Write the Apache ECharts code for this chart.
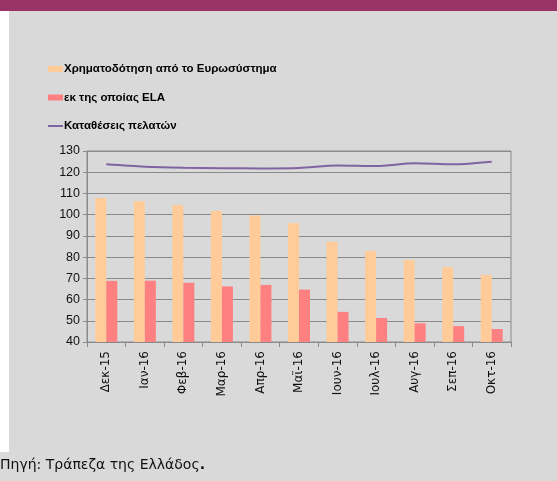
<!DOCTYPE html>
<html>
<head>
<meta charset="utf-8">
<script src="https://cdn.jsdelivr.net/npm/echarts@6/dist/echarts.min.js"></script>
<style>
  html, body { margin: 0; padding: 0; background: #d9d9d9; }
  #chart { width: 557px; height: 481px; }
</style>
</head>
<body>
<div id="chart"></div>
<script>
const months = ['Δεκ-15', 'Ιαν-16', 'Φεβ-16', 'Μαρ-16', 'Απρ-16', 'Μαϊ-16', 'Ιουν-16', 'Ιουλ-16', 'Αυγ-16', 'Σεπ-16', 'Οκτ-16']
const eurosystem = [107.8, 106.3, 104.5, 101.7, 99.6, 95.9, 87.2, 82.9, 78.6, 75.3, 71.6]
const ela = [68.8, 68.9, 67.9, 66.2, 66.9, 64.7, 54.2, 51.3, 48.8, 47.5, 46.1]
const deposits = [123.7, 122.6, 122.1, 121.9, 121.8, 122.0, 123.2, 122.9, 124.2, 123.7, 124.9]

const font = 'Tahoma, "Liberation Sans", Arial, sans-serif'
const wideFont = 'Tahoma, "DejaVu Sans", sans-serif'

const chart = echarts.init(document.getElementById('chart'))

chart.setOption({
  backgroundColor: '#d9d9d9',
  animation: false,
  textStyle: { fontFamily: font },
  graphic: [
    { type: 'rect', left: 0, top: 0, shape: { width: 9, height: 452 }, style: { fill: '#ffffff' }, silent: true },
    { type: 'rect', left: 0, top: 0, shape: { width: 557, height: 11 }, style: { fill: '#993366' }, silent: true },
    {
      type: 'text',
      left: 0,
      top: 458,
      style: {
        text: '{a|Πηγή: Τράπεζα της Ελλάδος}{b|.}',
        rich: {
          a: { fontSize: 14, fontFamily: wideFont, fill: '#111' },
          b: { fontSize: 14, fontFamily: wideFont, fontWeight: 'bold', fill: '#111' }
        }
      }
    }
  ],
  legend: {
    orient: 'vertical',
    left: 48,
    top: 63,
    padding: 0,
    itemWidth: 15,
    itemHeight: 6,
    itemGap: 16.5,
    textStyle: { fontSize: 11.5, fontWeight: 'bold', color: '#000', fontFamily: font, padding: [0, 0, 0, -4] },
    data: [
      { name: 'Χρηματοδότηση από το Ευρωσύστημα', icon: 'rect' },
      { name: 'εκ της οποίας ELA', icon: 'rect' },
      { name: 'Καταθέσεις πελατών', icon: 'path://M0 0H15V2H0Z' }
    ]
  },
  grid: {
    left: 87,
    right: 46,
    top: 151,
    bottom: 139,
    show: true,
    borderColor: '#8a8a8a',
    borderWidth: 1,
    backgroundColor: 'transparent'
  },
  xAxis: {
    type: 'category',
    data: months,
    axisLine: { lineStyle: { color: '#8a8a8a', width: 1 } },
    axisTick: { show: true, length: 5, lineStyle: { color: '#8a8a8a' } },
    axisLabel: { rotate: 90, interval: 0, fontSize: 12, fontFamily: wideFont, color: '#111', margin: 9 }
  },
  yAxis: {
    type: 'value',
    min: 40,
    max: 130,
    interval: 10,
    axisLine: { show: true, lineStyle: { color: '#8a8a8a', width: 1 } },
    axisTick: { show: true, length: 4, lineStyle: { color: '#8a8a8a' } },
    axisLabel: { fontSize: 12.5, color: '#111', margin: 7 },
    splitLine: { lineStyle: { color: '#8a8a8a', width: 1 } }
  },
  series: [
    {
      name: 'Χρηματοδότηση από το Ευρωσύστημα',
      type: 'bar',
      data: eurosystem,
      barWidth: 11,
      barGap: '0%',
      itemStyle: { color: '#ffcc99' }
    },
    {
      name: 'εκ της οποίας ELA',
      type: 'bar',
      data: ela,
      barWidth: 11,
      barGap: '0%',
      itemStyle: { color: '#ff8080' }
    },
    {
      name: 'Καταθέσεις πελατών',
      type: 'line',
      data: deposits,
      symbol: 'none',
      smooth: 0.3,
      lineStyle: { color: '#8064a2', width: 2 },
      itemStyle: { color: '#8064a2' }
    }
  ]
})
</script>
</body>
</html>
